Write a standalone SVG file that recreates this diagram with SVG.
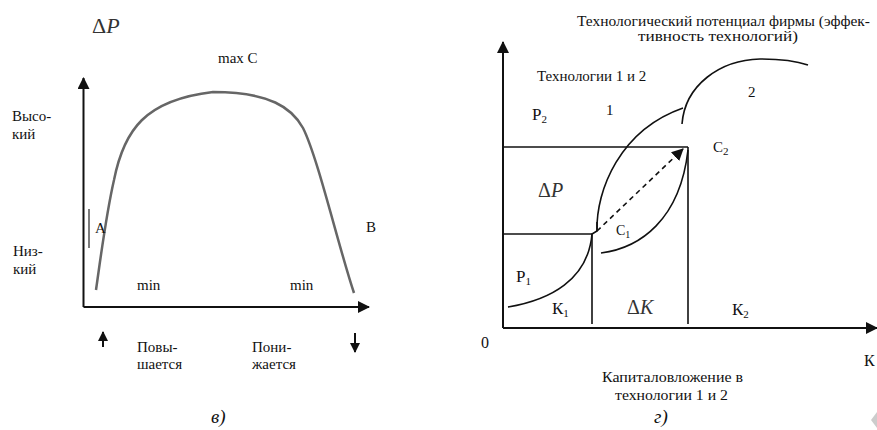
<svg xmlns="http://www.w3.org/2000/svg" width="877" height="430" viewBox="0 0 877 430">
<style>
.t{font-family:"Liberation Serif","Times New Roman","DejaVu Serif",serif;fill:#111;font-size:15px}
.i{font-style:italic}
.ax{stroke:#111;stroke-width:2;fill:none}
.ln{stroke:#111;stroke-width:1.6;fill:none}
.cv{stroke:#111;stroke-width:1.6;fill:none}
.gc{stroke:#666;stroke-width:2.5;fill:none}
</style>
<defs>
<marker id="ah" viewBox="0 0 12 12" refX="11" refY="6" markerWidth="12" markerHeight="12" markerUnits="userSpaceOnUse" orient="auto">
<path d="M0,0 L12,6 L0,12 Z" fill="#111"/>
</marker>
<marker id="ahs" viewBox="0 0 10 10" refX="9" refY="5" markerWidth="10" markerHeight="10" markerUnits="userSpaceOnUse" orient="auto">
<path d="M0,0 L10,5 L0,10 Z" fill="#111"/>
</marker>
</defs>

<g id="left-chart">
<g id="connectors-left">
<line class="ax" x1="83.5" y1="307" x2="83.5" y2="78" marker-end="url(#ah)"/>
<line class="ax" x1="83.5" y1="307" x2="369" y2="307" marker-end="url(#ah)"/>
<line x1="89" y1="209" x2="89" y2="248" stroke="#444" stroke-width="1.4"/>
<path class="gc" d="M96,290 C101,255 106,215 114,180 C124,130 145,100 213,92 C270,92 292,108 303,128 C318,158 338,245 354,293"/>
<line class="ax" x1="103" y1="347" x2="103" y2="332" marker-end="url(#ahs)"/>
<line class="ax" x1="355" y1="333" x2="355" y2="352" marker-end="url(#ahs)"/>
</g>
<g id="left-labels">
<text class="t" x="92" y="33" style="font-size:22px;fill:#333">Δ<tspan class="i">P</tspan></text>
<text class="t" x="218" y="63">max С</text>
<text class="t" x="12" y="121">Высо-</text>
<text class="t" x="12" y="139">кий</text>
<text class="t" x="13" y="256">Низ-</text>
<text class="t" x="13" y="274">кий</text>
<text class="t" x="95" y="233">А</text>
<text class="t" x="366" y="232">В</text>
<text class="t" x="137" y="290">min</text>
<text class="t" x="290" y="290">min</text>
<text class="t" x="137" y="352">Повы-</text>
<text class="t" x="137" y="369">шается</text>
<text class="t" x="252" y="352">Пони-</text>
<text class="t" x="252" y="369">жается</text>
<text class="t i" x="211" y="423" style="font-size:19px">в)</text>
</g>
</g>

<g id="right-chart">
<g id="connectors-right">
<line class="ax" x1="503" y1="328" x2="503" y2="42" marker-end="url(#ah)"/>
<line class="ax" x1="503" y1="328" x2="877" y2="328" marker-end="url(#ah)"/>
<line class="ln" x1="503" y1="147" x2="688" y2="147"/>
<line class="ln" x1="688" y1="147" x2="688" y2="324"/>
<line class="ln" x1="503" y1="234" x2="592" y2="234"/>
<line class="ln" x1="592" y1="234" x2="592" y2="324"/>
<path class="cv" d="M508,307 C550,300 588,280 592,234 L597,231 L597,222"/>
<path class="cv" d="M597,231 C596,190 620,130 683,108"/>
<path class="cv" d="M601,253 C640,248 680,220 688,150"/>
<path class="cv" d="M682,124 C685,85 720,60 760,59 C780,59 796,61 808,65"/>
<line x1="597" y1="231" x2="683" y2="149" stroke="#111" stroke-width="1.6" stroke-dasharray="5,4" marker-end="url(#ah)"/>
</g>
<g id="right-labels">
<text class="t" x="577" y="26" textLength="293" lengthAdjust="spacingAndGlyphs">Технологический потенциал фирмы (эффек-</text>
<text class="t" x="638" y="41" textLength="160" lengthAdjust="spacingAndGlyphs">тивность технологий)</text>
<text class="t" x="537" y="81">Технологии 1 и 2</text>
<text class="t" x="532" y="120" style="font-size:17px">Р<tspan dy="3" style="font-size:11px">2</tspan></text>
<text class="t" x="606" y="115">1</text>
<text class="t" x="748" y="97">2</text>
<text class="t" x="713" y="152">С<tspan dy="3" style="font-size:11px">2</tspan></text>
<text class="t" x="538" y="197" style="font-size:20px;fill:#333">Δ<tspan class="i">P</tspan></text>
<text class="t" x="616" y="235" style="font-size:14px">С<tspan dy="3" style="font-size:10px">1</tspan></text>
<text class="t" x="516" y="282" style="font-size:17px">Р<tspan dy="3" style="font-size:11px">1</tspan></text>
<text class="t" x="552" y="314" style="font-size:17px">К<tspan dy="3" style="font-size:11px">1</tspan></text>
<text class="t" x="627" y="314" style="font-size:20px;fill:#333">Δ<tspan class="i">K</tspan></text>
<text class="t" x="732" y="315" style="font-size:17px">К<tspan dy="3" style="font-size:11px">2</tspan></text>
<text class="t" x="481" y="348" style="font-size:16px">0</text>
<text class="t" x="864" y="366" style="font-size:16px">К</text>
<text class="t" x="602" y="382" textLength="141" lengthAdjust="spacingAndGlyphs">Капиталовложение в</text>
<text class="t" x="615" y="400" textLength="113" lengthAdjust="spacingAndGlyphs">технологии 1 и 2</text>
<text class="t i" x="654" y="423" style="font-size:19px">г)</text>
</g>
<polygon points="877,412 871,420 877,428" fill="#ccc"/>
</g>
</svg>
